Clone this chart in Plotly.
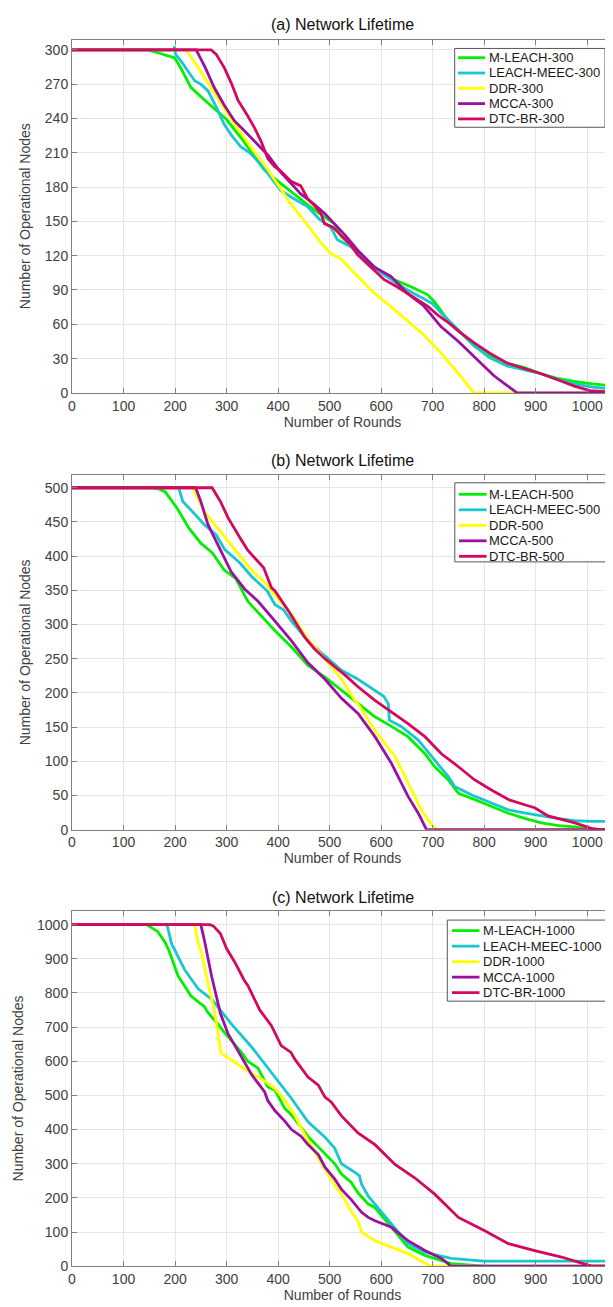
import plotly.graph_objects as go

# ---------------- data ----------------
# Panel (a) : 300 nodes
a_mleach_x = [0, 147, 170, 199, 210, 231, 260, 289, 300, 330, 373, 400, 444, 470, 509, 522, 550, 587, 620, 657, 690, 703, 729, 750, 781, 810, 845, 880, 909, 940, 975, 1010, 1050]
a_mleach_y = [300, 300, 297, 293, 285, 267, 255, 244, 239, 222, 195, 185, 169, 160, 148, 137, 125, 110, 100, 93, 86, 80, 64, 55, 41, 33, 26, 22, 17, 13, 10, 8, 6]
a_meec_x = [0, 197, 199, 201, 212, 225, 238, 250, 264, 280, 295, 310, 328, 345, 360, 380, 405, 430, 457, 480, 502, 515, 540, 570, 600, 630, 651, 680, 700, 716, 750, 781, 810, 845, 880, 909, 940, 975, 1010, 1050]
a_meec_y = [300, 300, 303, 296, 290, 282, 273, 270, 264, 250, 235, 225, 215, 210, 203, 192, 177, 170, 163, 152, 145, 134, 128, 117, 105, 96, 90, 83, 78, 70, 55, 41, 31, 23.5, 20, 17, 12, 8, 5, 3.5]
a_ddr_x = [0, 221, 240, 260, 280, 302, 330, 350, 373, 400, 425, 457, 480, 502, 522, 554, 587, 620, 651, 680, 716, 750, 780, 1050]
a_ddr_y = [300, 300, 288, 274, 259, 244, 226, 213, 200, 182, 165, 147, 133, 122, 117, 102, 87, 75, 63, 52, 35, 17, 0, 0]
a_mcca_x = [0, 241, 258, 276, 295, 315, 335, 360, 380, 405, 425, 444, 470, 490, 509, 530, 554, 587, 619, 651, 683, 716, 750, 780, 800, 819, 840, 864, 1050]
a_mcca_y = [300, 300, 285, 267, 252, 238, 229, 217, 208, 193, 183, 174, 165, 157, 148, 138, 125, 110, 102, 87, 76, 58, 45, 32, 24, 15, 8, 0, 0]
a_dtc_x = [0, 270, 280, 296, 310, 322, 340, 354, 367, 380, 393, 405, 425, 444, 457, 470, 483, 490, 506, 522, 540, 554, 580, 606, 630, 651, 670, 690, 710, 729, 750, 780, 810, 845, 880, 909, 940, 975, 1005, 1040]
a_dtc_y = [300, 300, 296, 284, 270, 256, 243, 232, 220, 205, 198, 194, 185, 181, 170, 164, 157, 148, 145, 138, 130, 121, 110, 99, 93, 87, 82, 76, 68, 62, 54, 44, 35, 26, 21, 17, 12, 6, 2, 1]

# Panel (b) : 500 nodes
b_mleach_x = [0, 158, 170, 181, 204, 219, 227, 250, 272, 295, 318, 341, 364, 394, 426, 458, 491, 523, 555, 588, 620, 652, 685, 704, 730, 750, 781, 814, 847, 880, 911, 945, 976, 1014, 1050]
b_mleach_y = [500, 500, 498, 494, 470, 450, 441, 419, 405, 380, 367, 334, 315, 291, 267, 240, 223, 204, 184, 165, 151, 136, 111, 92, 73, 53, 44, 34, 24, 16, 10, 6, 4, 0, 0]
b_meec_x = [0, 207, 208, 215, 234, 257, 280, 296, 326, 349, 379, 394, 410, 426, 458, 491, 523, 555, 588, 605, 614, 616, 639, 672, 698, 730, 743, 781, 814, 847, 880, 911, 945, 976, 1010, 1050]
b_meec_y = [500, 500, 498, 480, 465, 446, 431, 410, 390, 370, 349, 329, 322, 305, 276, 254, 233, 220, 203, 195, 184, 160, 151, 131, 107, 78, 63, 49, 39, 29, 24, 20, 16, 13, 12, 12]
b_ddr_x = [0, 234, 257, 277, 288, 309, 318, 348, 379, 387, 410, 426, 458, 491, 523, 549, 555, 588, 627, 652, 678, 698, 707, 1050]
b_ddr_y = [500, 500, 465, 446, 436, 417, 407, 380, 358, 349, 329, 315, 278, 250, 220, 189, 184, 145, 107, 68, 29, 7, 0, 0]
b_mcca_x = [0, 240, 250, 264, 283, 309, 335, 361, 394, 426, 458, 491, 523, 555, 588, 620, 652, 672, 688, 1050]
b_mcca_y = [500, 500, 480, 446, 417, 377, 352, 334, 305, 276, 244, 220, 192, 170, 136, 97, 49, 24, 0, 0]
b_dtc_x = [0, 272, 288, 303, 326, 340, 349, 361, 372, 387, 394, 420, 452, 470, 491, 530, 555, 588, 620, 652, 685, 717, 750, 781, 814, 847, 880, 898, 924, 976, 1008, 1027, 1050]
b_dtc_y = [500, 500, 480, 456, 427, 410, 402, 392, 383, 354, 349, 320, 281, 265, 250, 226, 209, 189, 172, 155, 136, 111, 92, 73, 58, 44, 36, 32, 20, 10, 2, 0, 0]

# Panel (c) : 1000 nodes
c_mleach_x = [0, 145, 166, 180, 188, 206, 211, 231, 257, 264, 280, 296, 329, 341, 361, 372, 380, 394, 413, 426, 445, 458, 510, 523, 542, 555, 575, 588, 620, 652, 685, 717, 736, 800, 1050]
c_mleach_y = [1000, 1000, 980, 950, 925, 849, 838, 791, 760, 742, 715, 684, 626, 600, 580, 549, 525, 515, 462, 443, 404, 380, 300, 270, 245, 215, 182, 172, 114, 56, 32, 17, 8, 0, 0]
c_meec_x = [0, 184, 186, 193, 219, 245, 272, 310, 349, 387, 426, 458, 491, 510, 523, 549, 558, 562, 575, 588, 620, 652, 685, 736, 800, 1050]
c_meec_y = [1000, 1000, 990, 945, 867, 812, 780, 708, 641, 568, 491, 423, 378, 345, 300, 275, 265, 240, 205, 182, 124, 66, 41, 23, 15, 15]
c_ddr_x = [0, 238, 245, 250, 264, 277, 289, 292, 316, 342, 367, 394, 413, 432, 445, 452, 478, 510, 523, 542, 555, 562, 588, 620, 652, 685, 697, 1050]
c_ddr_y = [1000, 1000, 945, 925, 829, 742, 626, 621, 597, 570, 549, 520, 486, 443, 404, 385, 317, 237, 211, 160, 133, 100, 75, 56, 37, 9, 0, 0]
c_mcca_x = [0, 250, 257, 271, 288, 303, 328, 349, 374, 380, 394, 413, 426, 445, 458, 478, 491, 510, 523, 542, 562, 575, 588, 620, 652, 685, 717, 736, 1050]
c_mcca_y = [1000, 1000, 954, 849, 740, 680, 615, 560, 510, 485, 455, 425, 400, 380, 356, 327, 290, 255, 225, 195, 158, 143, 133, 114, 75, 46, 23, 0, 0]
c_dtc_x = [0, 268, 275, 288, 300, 316, 334, 342, 364, 387, 406, 425, 432, 458, 478, 491, 503, 523, 555, 588, 627, 665, 704, 750, 801, 847, 898, 950, 989, 1010, 1050]
c_dtc_y = [1000, 1000, 995, 974, 930, 890, 838, 820, 751, 704, 646, 626, 607, 554, 530, 495, 481, 440, 390, 356, 298, 259, 211, 143, 104, 66, 46, 27, 9, 0, 0]

panel_titles = ["(a) Network Lifetime", "(b) Network Lifetime", "(c) Network Lifetime"]
node_counts = [300, 500, 1000]
protocols = ["M-LEACH", "LEACH-MEEC", "DDR", "MCCA", "DTC-BR"]
y_ticks = [list(range(0, 301, 30)), list(range(0, 501, 50)), list(range(0, 1001, 100))]
y_max = [309, 518.5, 1040.6]
x_ticks = list(range(0, 1001, 100))

panels = [
    [(a_mleach_x, a_mleach_y), (a_meec_x, a_meec_y), (a_ddr_x, a_ddr_y), (a_mcca_x, a_mcca_y), (a_dtc_x, a_dtc_y)],
    [(b_mleach_x, b_mleach_y), (b_meec_x, b_meec_y), (b_ddr_x, b_ddr_y), (b_mcca_x, b_mcca_y), (b_dtc_x, b_dtc_y)],
    [(c_mleach_x, c_mleach_y), (c_meec_x, c_meec_y), (c_ddr_x, c_ddr_y), (c_mcca_x, c_mcca_y), (c_dtc_x, c_dtc_y)],
]

# ---------------- styling ----------------
colors = ["#00F000", "#18C8CE", "#FFFF00", "#9A10A0", "#D2095F"]
W, H = 613, 1307
ML, MR = 64, 8
PW = W - ML - MR
FONT = "Liberation Sans, Arial, sans-serif"
AX = "#808080"
GRID = "#e6e6e6"
TXT = "#404040"
LW = 2.8

# panel vertical extents in pixels (top, bottom of plot area)
pix = [(31.7, 387.3), (470.0, 826.7), (908.3, 1266.0)]
title_py = [17, 455, 895]
# legend boxes in pixels: (left, top, right, bottom), sample line x0, x1, text x, first row y, row step
legend_geom = [
    (446.7, 40.7, 597.0, 120.0, 450.0, 477.0, 480.7, 50.0, 15.4),
    (446.8, 477.7, 602.0, 557.3, 451.0, 478.6, 481.3, 489.3, 15.6),
    (439.3, 917.7, 600.4, 999.3, 444.0, 471.5, 474.7, 928.3, 15.6),
]


def px_x(v):
    return (v - ML) / PW


def px_y(v):
    return 1 - v / H


fig = go.Figure()
for p in range(3):
    sfx = "" if p == 0 else str(p + 1)
    for k, (xs, ys) in enumerate(panels[p]):
        fig.add_trace(go.Scatter(
            x=xs, y=ys, mode="lines",
            name=f"{protocols[k]}-{node_counts[p]}",
            line=dict(color=colors[k], width=LW),
            xaxis="x" + sfx, yaxis="y" + sfx,
            showlegend=False,
        ))

annotations = []
shapes = []
layout = dict(
    width=W, height=H,
    margin=dict(l=ML, r=MR, t=0, b=0),
    paper_bgcolor="white", plot_bgcolor="white",
    font=dict(family=FONT, color=TXT, size=14),
    showlegend=False,
)
for p in range(3):
    sfx = "" if p == 0 else str(p + 1)
    top, bot = pix[p]
    dom = [1 - bot / H, 1 - top / H]
    common = dict(showline=True, linecolor=AX, linewidth=1, mirror="ticks",
                  ticks="inside", ticklen=5, tickcolor=AX, showgrid=True,
                  gridcolor=GRID, gridwidth=1, zeroline=False,
                  tickfont=dict(size=14, color=TXT, family=FONT))
    layout["xaxis" + sfx] = dict(
        common, domain=[0, 1], range=[0, 1050], tickvals=x_ticks,
        anchor="y" + sfx,
        title=dict(text="Number of Rounds", font=dict(size=14, color=TXT, family=FONT), standoff=3),
    )
    layout["yaxis" + sfx] = dict(
        common, domain=dom, range=[0, y_max[p]], tickvals=y_ticks[p],
        anchor="x" + sfx,
        title=dict(text="Number of Operational Nodes", font=dict(size=14, color=TXT, family=FONT), standoff=10),
    )
    annotations.append(dict(
        text=panel_titles[p], xref="paper", yref="paper",
        x=0.5, y=px_y(title_py[p]), xanchor="center", yanchor="middle",
        showarrow=False, font=dict(size=16, color="#111111", family=FONT),
    ))
    # legend (box, sample lines, labels)
    l, t, r, b, s0, s1, tx, ry, rs = legend_geom[p]
    shapes.append(dict(type="rect", xref="paper", yref="paper",
                       x0=px_x(l), x1=px_x(r), y0=px_y(b), y1=px_y(t),
                       line=dict(color="#555555", width=1), fillcolor="white", layer="above"))
    for k in range(5):
        yy = px_y(ry + k * rs)
        shapes.append(dict(type="line", xref="paper", yref="paper",
                           x0=px_x(s0), x1=px_x(s1), y0=yy, y1=yy,
                           line=dict(color=colors[k], width=LW), layer="above"))
        annotations.append(dict(
            text=f"{protocols[k]}-{node_counts[p]}", xref="paper", yref="paper",
            x=px_x(tx), y=yy, xanchor="left", yanchor="middle", showarrow=False,
            xshift=-2, font=dict(size=13, color="#1a1a1a", family=FONT),
        ))

layout["annotations"] = annotations
layout["shapes"] = shapes
fig.update_layout(**layout)
fig.write_html("out.html")
